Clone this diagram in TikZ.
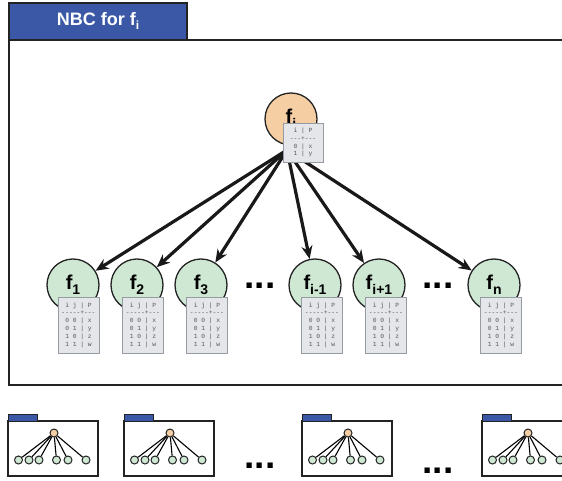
\documentclass[tikz,border=0pt]{standalone}
\usepackage{fontspec}
\setmainfont{Liberation Sans}
\newfontfamily\tabfont{Liberation Mono}
\usetikzlibrary{arrows.meta}

\definecolor{tabblue}{RGB}{58,88,166}
\definecolor{peach}{RGB}{246,206,164}
\definecolor{mint}{RGB}{206,232,212}
\definecolor{cptfill}{RGB}{228,230,234}
\definecolor{cptedge}{RGB}{150,154,162}
\definecolor{cpttext}{RGB}{85,85,85}
\definecolor{edge}{RGB}{35,35,35}

% variable label: bold f with a lowered index
\newcommand\flab[1]{\fontsize{20}{20}\selectfont\bfseries f\raisebox{-5pt}{\fontsize{14}{14}\selectfont #1}}

\tikzset{
  x=1pt, y=-1pt,
  frameline/.style={draw=edge, line width=1.4pt},
  titletab/.style={draw=edge, fill=tabblue, line width=1.2pt},
  varnode/.style={circle, draw=edge, line width=1.3pt, minimum size=52pt, inner sep=0pt},
  rootvar/.style={varnode, fill=peach},
  leafvar/.style={varnode, fill=mint},
  cpt/.style={draw=cptedge, fill=cptfill, line width=0.8pt,
    font=\tabfont\fontsize{6.3}{7.8}\selectfont, text=cpttext,
    align=center, inner sep=0pt, minimum width=41pt},
  leafcpt/.style={cpt, minimum height=56pt},
  rootcpt/.style={cpt, minimum width=40pt, minimum height=39pt},
  infer/.style={draw=black!90, line width=3.2pt, -{Stealth[length=13pt,width=11pt]}},
  ellipsis/.style={font=\fontsize{37}{37}\selectfont\bfseries, anchor=base, inner sep=0pt},
  miniroot/.style={circle, draw=edge, fill=peach, line width=1pt, minimum size=8pt, inner sep=0pt},
  minileaf/.style={circle, draw=edge, fill=mint, line width=1pt, minimum size=8pt, inner sep=0pt},
  minilink/.style={draw=black, line width=1.1pt},
  minimodel/.pic={
    \draw[frameline, line width=1.3pt, fill=white] (0,0) rectangle (90,55);
    \draw[titletab, line width=0.9pt] (0,-7) rectangle (29,0);
    \node[minileaf] (-a) at (10.5,39) {};
    \node[minileaf] (-b) at (21,39) {};
    \node[minileaf] (-c) at (31,39) {};
    \node[minileaf] (-d) at (48.5,39) {};
    \node[minileaf] (-e) at (60,39) {};
    \node[minileaf] (-f) at (78,39) {};
    \node[miniroot] (-r) at (46,12) {};
    \foreach \k in {a,b,c,d,e,f} \draw[minilink] (-r) -- (-\k);
  }
}

\newcommand\leaftable{i j | P\\-----+---\\0 0 | x\\0 1 | y\\1 0 | z\\1 1 | w}

\begin{document}
\begin{tikzpicture}
\clip (0,0) rectangle (562,481);
\fill[white] (0,0) rectangle (562,481);

% outer frame of the classifier and its title tab
\draw[frameline] (9,40) rectangle (620,385);
\draw[titletab] (9,3) rectangle (187,40);
\node[text=white, font=\fontsize{18}{18}\selectfont\bfseries] (title) at (98,21)
  {NBC for f\raisebox{-4pt}{\fontsize{12}{12}\selectfont i}};

% class variable
\node[rootvar] (root) at (291,119) {\raisebox{3pt}{\flab{i}}};
\coordinate (src) at (287,150);

% feature variables with their tables
\node[leafvar] (v1) at (73,285) {\flab{1}};
\node[leafvar] (v2) at (137,285) {\flab{2}};
\node[leafvar] (v3) at (201,285) {\flab{3}};
\node[leafvar] (vim) at (315,285) {\flab{i-1}};
\node[leafvar] (vip) at (379,285) {\flab{i+1}};
\node[leafvar] (vn) at (494,285) {\flab{n}};

\node[leafcpt] (t1) at (78.5,325) {\leaftable};
\node[leafcpt] (t2) at (143,325) {\leaftable};
\node[leafcpt] (t3) at (207,325) {\leaftable};
\node[leafcpt] (tim) at (322,325) {\leaftable};
\node[leafcpt] (tip) at (386,325) {\leaftable};
\node[leafcpt] (tn) at (501,325) {\leaftable};

\node[ellipsis] (dotsA) at (260,288) {...};
\node[ellipsis] (dotsB) at (438,288) {...};

% dependencies from the class variable
\foreach \v in {v1,v2,v3,vim,vip,vn}
  \draw[infer] (src) -- (\v);

\node[rootcpt] (troot) at (303,142.5) {i | P\\---+---\\0 | x\\1 | y};

% the other classifiers of the ensemble
\pic (m1) at (8,421) {minimodel};
\pic (m2) at (124,421) {minimodel};
\pic (m3) at (302,421) {minimodel};
\pic (m4) at (482,421) {minimodel};
\node[ellipsis] (dotsC) at (260,468) {...};
\node[ellipsis] (dotsD) at (438,473) {...};
\end{tikzpicture}
\end{document}
